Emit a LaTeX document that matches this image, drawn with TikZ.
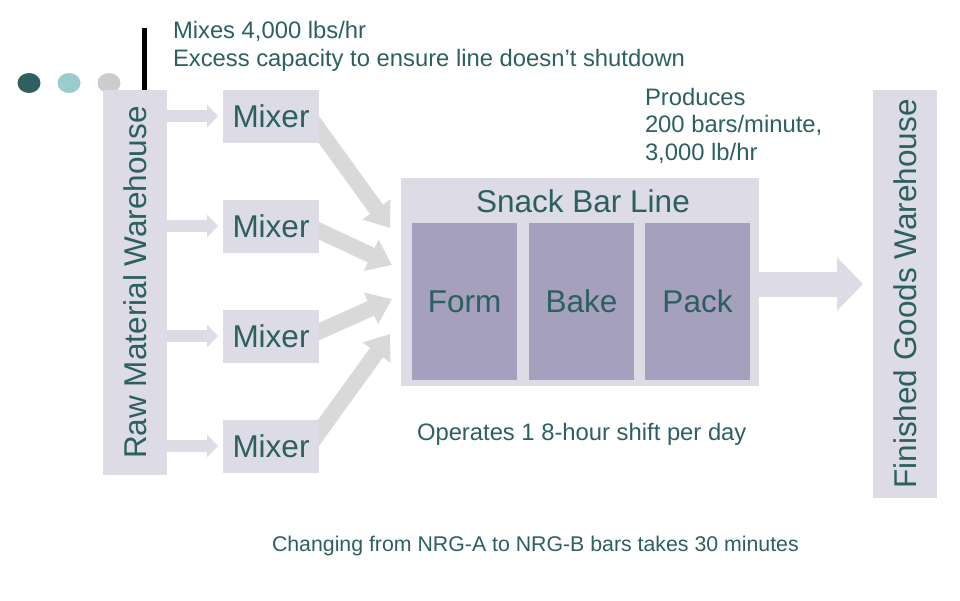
\documentclass[tikz,border=0pt]{standalone}
\usepackage{fontspec}
\setmainfont{Liberation Sans}
\usetikzlibrary{positioning,arrows.meta,backgrounds}

\definecolor{boxfill}{RGB}{220,219,230}
\definecolor{stagefill}{RGB}{164,160,189}
\definecolor{tealtext}{RGB}{44,96,96}
\definecolor{arrowgray}{RGB}{217,217,217}
\definecolor{dotdark}{RGB}{46,96,96}
\definecolor{dotlight}{RGB}{153,204,204}
\definecolor{dotgray}{RGB}{204,204,204}

\begin{document}
\begin{tikzpicture}[x=1pt, y=-1pt,
    box/.style={fill=boxfill, text=tealtext, inner sep=0pt, outer sep=0pt, font=\fontsize{31.5}{37}\selectfont},
    stage/.style={box, fill=stagefill, minimum width=105pt, minimum height=157pt},
    mixer/.style={box, minimum width=96pt, minimum height=53pt},
    note/.style={text=tealtext, inner sep=0pt, outer sep=0pt, align=left, font=\fontsize{23.8}{27.5}\selectfont},
    feed/.style={line width=12pt, draw=boxfill, -{Triangle[width=22pt,length=11pt]}},
    flow/.style={line width=16pt, draw=arrowgray, -{Triangle[width=33pt,length=23pt]}},
    outflow/.style={line width=25pt, draw=boxfill, -{Triangle[width=52pt,length=26pt]}}]
    \useasboundingbox (0,0) rectangle (960,600);

    \node[box, rotate=90, minimum width=385pt, minimum height=64pt] (raw) at (135,282.5) {Raw Material Warehouse};
    \node[box, rotate=90, minimum width=408pt, minimum height=64pt] (fin) at (905,294) {Finished Goods Warehouse};

    \node[mixer] (mixA) at (271,116) {Mixer};
    \node[mixer, below=57pt of mixA] (mixB) {Mixer};
    \node[mixer, below=57pt of mixB] (mixC) {Mixer};
    \node[mixer, below=57pt of mixC] (mixD) {Mixer};

    \node[box, minimum width=358pt, minimum height=208pt] (line) at (580,282) {};
    \node[box, fill=none] (title) at (583,201) {Snack Bar Line};
    \node[stage] (form) at (464.5,301.5) {Form};
    \node[stage, right=12pt of form] (bake) {Bake};
    \node[stage, right=11pt of bake] (pack) {Pack};

    \node[note, anchor=north west] (mixnote) at (173,21.5) {Mixes 4,000 lbs/hr\\Excess capacity to ensure line doesn’t shutdown};
    \node[note, anchor=north west] (rate) at (645,88) {Produces\\200 bars/minute,\\3,000 lb/hr};
    \node[note, anchor=base west] (shift) at (417,440) {Operates 1 8-hour shift per day};
    \node[note, anchor=base west, font=\fontsize{21.3}{25}\selectfont] (change) at (272,551) {Changing from NRG-A to NRG-B bars takes 30 minutes};

    \coordinate (inA) at (390,228);
    \coordinate (inB) at (392,265);
    \coordinate (inC) at (392,299);
    \coordinate (inD) at (390,334);

    \begin{pgfonlayer}{background}
        \fill[dotdark] (29,83) ellipse (11.5 and 10);
        \fill[dotlight] (69,83) ellipse (11.5 and 10);
        \fill[dotgray] (109,83) ellipse (11.5 and 10);
        \draw[line width=4.5pt] (144.5,28) -- (144.5,90);
        \foreach \m in {mixA,mixB,mixC,mixD}
            \draw[feed, shorten >=5pt] (raw.south |- \m) -- (\m.west);
        \draw[flow] ([xshift=-10pt]mixA.east) -- (inA);
        \draw[flow] ([xshift=-10pt]mixB.east) -- (inB);
        \draw[flow] ([xshift=-10pt]mixC.east) -- (inC);
        \draw[flow] ([xshift=-10pt]mixD.east) -- (inD);
        \draw[outflow, shorten >=10pt] ([yshift=-2pt]line.east) -- ([yshift=-2pt]line.east -| fin.north);
    \end{pgfonlayer}
\end{tikzpicture}
\end{document}
